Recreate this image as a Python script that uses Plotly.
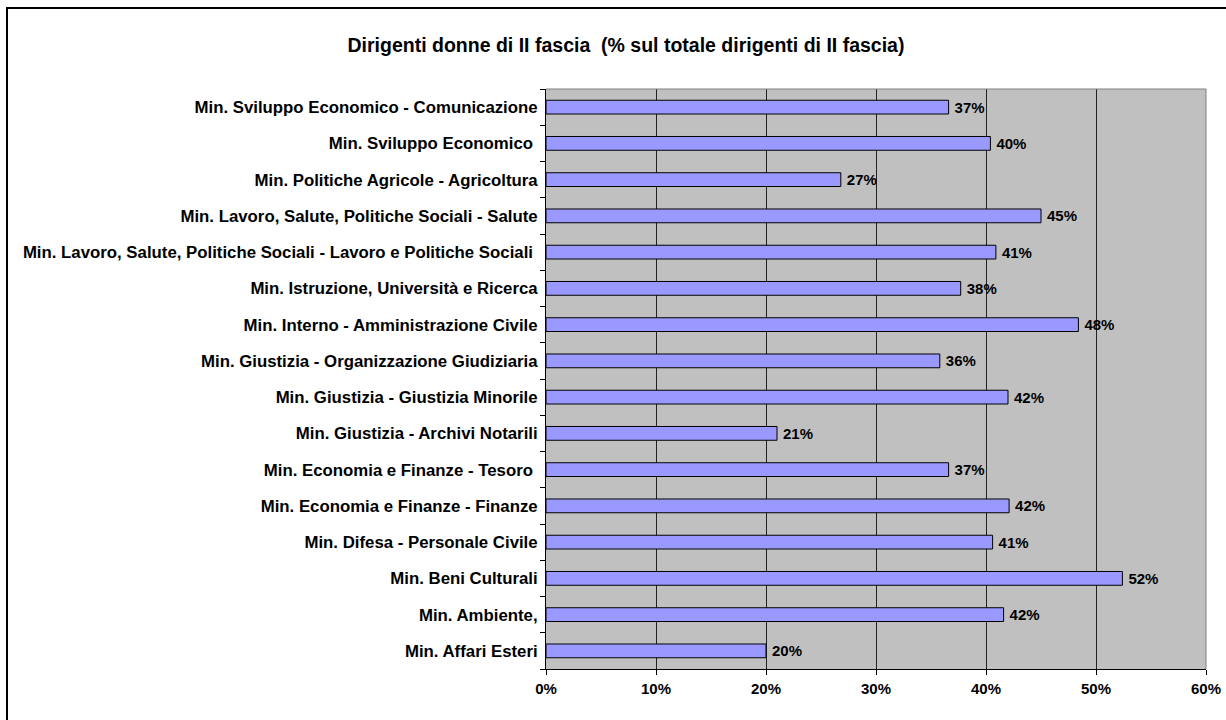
import plotly.graph_objects as go

# Categories listed bottom to top (as drawn on the y axis)
categories = [
    "Min. Affari Esteri",
    "Min. Ambiente,",
    "Min. Beni Culturali",
    "Min. Difesa - Personale Civile",
    "Min. Economia e Finanze - Finanze",
    "Min. Economia e Finanze - Tesoro\u00a0",
    "Min. Giustizia - Archivi Notarili",
    "Min. Giustizia - Giustizia Minorile",
    "Min. Giustizia - Organizzazione Giudiziaria",
    "Min. Interno - Amministrazione Civile",
    "Min. Istruzione, Università e Ricerca",
    "Min. Lavoro, Salute, Politiche Sociali - Lavoro e Politiche Sociali\u00a0",
    "Min. Lavoro, Salute, Politiche Sociali - Salute",
    "Min. Politiche Agricole - Agricoltura",
    "Min. Sviluppo Economico\u00a0",
    "Min. Sviluppo Economico - Comunicazione",
]
values = [20.0, 41.6, 52.4, 40.6, 42.1, 36.6, 21.0, 42.0, 35.8, 48.4, 37.7, 40.9, 45.0, 26.8, 40.4, 36.6]
x_ticks = [0, 10, 20, 30, 40, 50, 60]
x_tick_labels = ["0%", "10%", "20%", "30%", "40%", "50%", "60%"]
title_text = "Dirigenti donne di II fascia  (% sul totale dirigenti di II fascia)"

FONT = "Liberation Sans, Arial, sans-serif"
W, H = 1226, 720
L, R, T, B = 546, 20, 89, 51

fig = go.Figure()
fig.add_trace(go.Bar(
    y=categories,
    x=values,
    orientation="h",
    marker=dict(color="#9999FF", line=dict(color="#000000", width=1)),
    text=[f"\u2009{round(v):d}%" for v in values],
    textposition="outside",
    constraintext="none",
    textfont=dict(family=FONT, size=15, color="#000000", weight="bold"),
    cliponaxis=False,
    hoverinfo="skip",
))

pw = W - L - R
ph = H - T - B
def px_x(p):
    return (p - L) / pw
def px_y(p):
    return (H - B - p) / ph

# outer chart border (extends past the right/bottom of the picture)
fig.add_shape(type="rect", xref="paper", yref="paper",
              x0=px_x(7), x1=px_x(1240), y0=px_y(735), y1=px_y(8),
              line=dict(color="#000000", width=2), fillcolor="rgba(0,0,0,0)", layer="below")

fig.update_layout(
    width=W, height=H,
    margin=dict(l=L, r=R, t=T, b=B, autoexpand=False),
    paper_bgcolor="white",
    plot_bgcolor="#C0C0C0",
    bargap=0.62,
    showlegend=False,
    title=dict(text=title_text, x=626 / W, xanchor="center", xref="container",
               y=1 - 45 / H, yanchor="middle", yref="container",
               font=dict(family=FONT, size=19.5, color="#000000", weight="bold")),
    xaxis=dict(
        range=[0, 60], tickvals=x_ticks, ticktext=x_tick_labels,
        showgrid=True, gridcolor="#222222", gridwidth=1,
        ticks="outside", ticklen=5, tickcolor="#000000",
        showline=True, linecolor="#000000", linewidth=1,
        mirror=False, zeroline=False, automargin=False,
        tickfont=dict(family=FONT, size=15, color="#000000", weight="bold"),
        ticklabelstandoff=1,
    ),
    yaxis=dict(
        categoryorder="array", categoryarray=categories,
        ticks="outside", ticklen=5, tickcolor="#000000", tickson="boundaries",
        showline=True, linecolor="#000000", linewidth=1,
        showgrid=False, zeroline=False, automargin=False,
        tickfont=dict(family=FONT, size=16.8, color="#000000", weight="bold"),
        ticklabelstandoff=4,
    ),
)

# gray top/right plot border
fig.add_shape(type="line", xref="paper", yref="paper", x0=0, x1=1, y0=1, y1=1,
              line=dict(color="#808080", width=1))
fig.add_shape(type="line", xref="paper", yref="paper", x0=1, x1=1, y0=0, y1=1,
              line=dict(color="#808080", width=1))

fig.write_html("out.html", config={"displayModeBar": False},
               post_script="document.body.style.margin='0px';")
